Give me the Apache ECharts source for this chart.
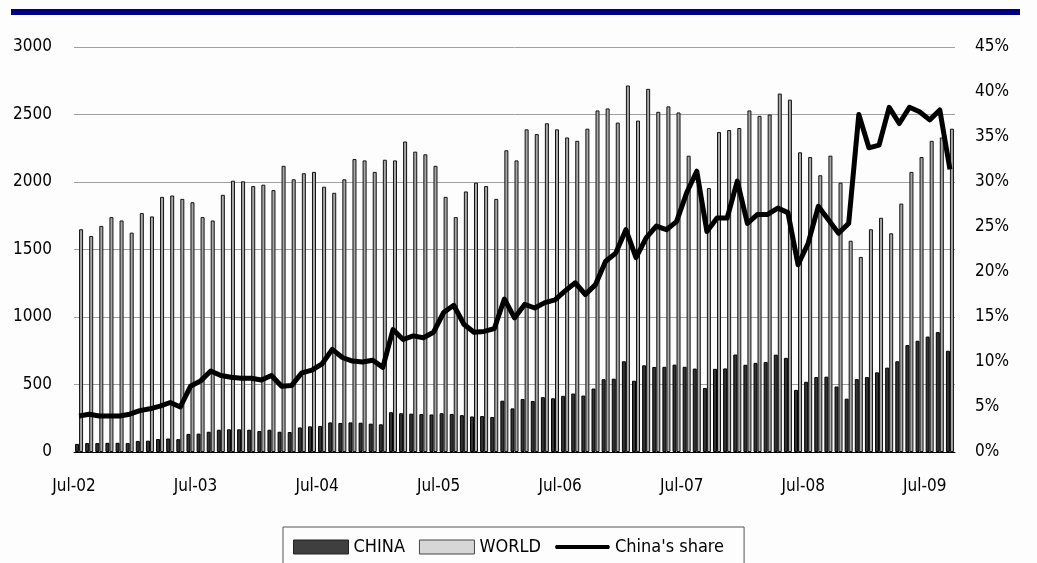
<!DOCTYPE html>
<html>
<head>
<meta charset="utf-8">
<script src="https://cdn.jsdelivr.net/npm/echarts@6/dist/echarts.min.js"></script>
<style>
  html, body { margin: 0; padding: 0; background: #fdfdfd; }
  #chart { width: 1037px; height: 563px; }
</style>
</head>
<body>
<div id="chart"></div>
<script>
// Monthly categories, Jul-02 through Sep-09
const monthNames = ['Jan','Feb','Mar','Apr','May','Jun','Jul','Aug','Sep','Oct','Nov','Dec'];
const months = [];
for (let y = 2002, m = 6; !(y === 2009 && m === 9); ) {
  months.push(monthNames[m] + '-' + String(y % 100).padStart(2, '0'));
  m++; if (m === 12) { m = 0; y++; }
}

// Monthly volumes
const china = [
  60, 66, 66, 68, 68, 66, 82, 84, 96, 100, 95, 134,
  136, 150, 165, 168, 168, 165, 155, 165, 150, 148, 182, 190,
  193, 219, 215, 219, 217, 210, 205, 295, 287, 284, 281, 278,
  287, 282, 273, 263, 266, 259, 380, 323, 392, 378, 406, 398,
  416, 433, 418, 470, 539, 543, 672, 528, 642, 630, 631, 647,
  631, 618, 474, 616, 619, 722, 646, 660, 667, 721, 697, 460,
  520, 555, 558, 485, 395, 540, 555, 590, 625, 672, 792, 824,
  855, 888, 750
];
const world = [
  1650, 1600, 1675, 1740, 1715, 1625, 1770, 1745, 1890, 1900, 1875, 1850,
  1740, 1715, 1905, 2010, 2005, 1970, 1980, 1940, 2120, 2020, 2065, 2075,
  1965, 1920, 2020, 2170, 2160, 2075, 2165, 2160, 2300, 2225, 2205, 2120,
  1890, 1740, 1930, 1995, 1970, 1875, 2235, 2160, 2390, 2355, 2435, 2390,
  2330, 2305, 2395, 2530, 2545, 2440, 2715, 2455, 2690, 2520, 2560, 2515,
  2195, 1980, 1955, 2370, 2385, 2400, 2530, 2490, 2500, 2655, 2610, 2220,
  2185, 2050, 2195, 1995, 1565, 1445, 1650, 1735, 1620, 1840, 2075, 2185,
  2305, 2330, 2395
];
// China's share of world, percent
const share = [
  4.0, 4.2, 4.0, 4.0, 4.0, 4.2, 4.6, 4.8, 5.1, 5.5, 5.0, 7.3,
  7.9, 9.0, 8.5, 8.3, 8.2, 8.2, 8.0, 8.5, 7.3, 7.4, 8.8, 9.1,
  9.8, 11.4, 10.5, 10.1, 10.0, 10.2, 9.4, 13.6, 12.5, 12.9, 12.7, 13.3,
  15.5, 16.3, 14.2, 13.3, 13.4, 13.7, 17.0, 14.9, 16.4, 16.0, 16.6, 16.9,
  17.9, 18.8, 17.5, 18.6, 21.2, 22.1, 24.7, 21.6, 23.8, 25.1, 24.7, 25.6,
  28.8, 31.2, 24.5, 26.0, 26.0, 30.1, 25.4, 26.4, 26.4, 27.1, 26.6, 20.8,
  23.2, 27.3, 25.8, 24.3, 25.4, 37.5, 33.8, 34.1, 38.3, 36.5, 38.3, 37.8,
  36.9, 38.0, 31.4
];

const FONT = "'Liberation Sans Narrow', 'DejaVu Sans Condensed', 'Liberation Sans', sans-serif";
const AXIS_FS = 17;
const yearStart = (i) => i % 12 === 0;

// thick horizontal stroke inside a 55x14 box, used as the share legend key
const lineKey = 'path://M0,0 M55,14 M1,5 L54,5 L55,7 L54,9 L1,9 L0,7 Z';

const chart = echarts.init(document.getElementById('chart'), null, { renderer: 'canvas' });
chart.setOption({
  animation: false,
  backgroundColor: '#fdfdfd',
  textStyle: { fontFamily: FONT, color: '#000' },
  graphic: [{
    type: 'rect',
    left: 11, top: 9,
    shape: { width: 1009, height: 6 },
    style: { fill: '#000080' }
  }],
  grid: { left: 74, right: 82, top: 47, bottom: 111, containLabel: false },
  legend: {
    data: [
      { name: 'CHINA', icon: 'rect', itemStyle: { color: '#3f3f3f', borderColor: '#222', borderWidth: 1 } },
      { name: 'WORLD', icon: 'rect', itemStyle: { color: '#d6d6d6', borderColor: '#444', borderWidth: 1 } },
      { name: "China's share", icon: lineKey, itemStyle: { color: '#000', borderWidth: 0 } }
    ],
    left: 283, top: 527,
    itemWidth: 55, itemHeight: 14, itemGap: 14,
    padding: [11, 20, 30, 10],
    borderColor: '#555', borderWidth: 1,
    textStyle: { fontFamily: FONT, fontSize: 18, color: '#000' }
  },
  xAxis: {
    type: 'category',
    data: months,
    boundaryGap: true,
    axisLine: { lineStyle: { color: '#000', width: 1 } },
    axisTick: { interval: (i) => yearStart(i), length: 8, lineStyle: { color: '#000' } },
    axisLabel: {
      interval: (i) => yearStart(i),
      margin: 26,
      fontSize: AXIS_FS,
      fontFamily: FONT,
      color: '#000',
      formatter: (v) => '{a|' + v + '}',
      rich: { a: { fontSize: AXIS_FS, fontFamily: FONT, color: '#000', padding: [0, 10, 0, 0] } }
    },
    splitLine: { show: false }
  },
  yAxis: [{
    type: 'value',
    min: 0, max: 3000, interval: 500,
    axisLine: { show: false },
    axisTick: { show: false },
    axisLabel: { margin: 22, fontSize: AXIS_FS, fontFamily: FONT, color: '#000', formatter: (v) => String(v) },
    splitLine: { lineStyle: { color: '#a0a0a0', width: 1 } }
  }, {
    type: 'value',
    min: 0, max: 45, interval: 5,
    axisLine: { show: false },
    axisTick: { show: false },
    axisLabel: { margin: 20, fontSize: AXIS_FS, fontFamily: FONT, color: '#000', formatter: (v) => v + '%' },
    splitLine: { show: false }
  }],
  series: [{
    name: 'CHINA',
    type: 'bar',
    data: china,
    barWidth: 4,
    barGap: '0%',
    itemStyle: { color: '#333', borderColor: '#000', borderWidth: 1 }
  }, {
    name: 'WORLD',
    type: 'bar',
    data: world,
    barWidth: 4,
    barGap: '0%',
    itemStyle: { color: '#a8a8a8', borderColor: '#111', borderWidth: 1 }
  }, {
    name: "China's share",
    type: 'line',
    yAxisIndex: 1,
    data: share,
    symbol: 'none',
    z: 5,
    itemStyle: { color: '#000' },
    lineStyle: { color: '#000', width: 5, join: 'round' }
  }]
});
</script>
</body>
</html>
